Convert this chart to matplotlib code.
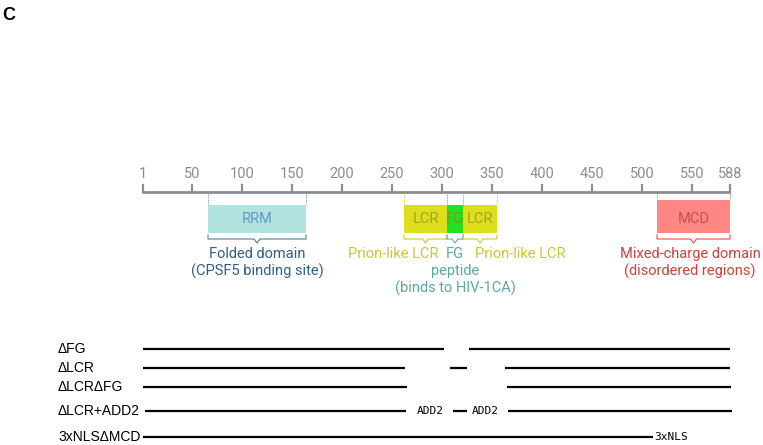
import matplotlib.pyplot as plt
from matplotlib.patches import Rectangle

plt.rcParams['font.family'] = ['Roboto', 'DejaVu Sans']

# protein map (residue numbers)
tick_values = [1, 50, 100, 150, 200, 250, 300, 350, 400, 450, 500, 550, 588]
protein_len = 588

domain_names = ["RRM", "LCR", "FG", "LCR", "MCD"]
domain_start = [66, 262, 305, 321, 515]
domain_end = [164, 305, 321, 355, 588]
domain_fill = ["#b3e3de", "#dede1c", "#22e022", "#dede1c", "#ff8682"]
domain_text = ["#5e9cc9", "#a3a322", "#7a9a20", "#a3a322", "#c8504c"]
domain_edge = ["#4f7fa8", "#c8c832", "#6aaaa6", "#c8c832", "#d8524e"]

# descriptions under the boxes: (x centre, lines, colour)
desc_x = [115, 251, 313, 378, 548]
desc_text = [["Folded domain", "(CPSF5 binding site)"],
             ["Prion-like LCR"],
             ["FG", "peptide", "(binds to HIV-1CA)"],
             ["Prion-like LCR"],
             ["Mixed-charge domain", "(disordered regions)"]]
desc_color = ["#2f5f90", "#c8c832", "#5aa8a2", "#c8c832", "#d6403c"]

# deletion constructs
constructs = ["ΔFG", "ΔLCR", "ΔLCRΔFG", "ΔLCR+ADD2", "3xNLSΔMCD"]
segments = [[(1, 302), (327, 588)],
            [(1, 263), (308, 325), (363, 588)],
            [(1, 265), (365, 589)],
            [(3, 264), (311, 325), (366, 590)],
            [(1, 511)]]
inserts = [[], [], [], [(288, "ADD2"), (343, "ADD2")], [(529, "3xNLS")]]


def main():
    fig = plt.figure(figsize=(7.63, 4.45), dpi=100)
    ax = fig.add_axes([0, 0, 1, 1])
    ax.set_xlim(-142, 621)
    ax.set_ylim(445, 0)
    ax.axis('off')

    fig.text(0.003, 0.985, "C", fontsize=13, fontweight='bold', va='top',
             family=['Liberation Sans', 'DejaVu Sans'])

    # ruler
    axis_y = 192
    gray = "#8a8d92"
    ax.plot([0, protein_len], [axis_y, axis_y], color=gray, lw=2, solid_capstyle='butt')
    for t in tick_values:
        ax.plot([t, t], [axis_y, axis_y - 7], color=gray, lw=1.6)
        ax.text(t, axis_y - 18, str(t), ha='center', va='center', fontsize=10.5, color=gray)

    # domains
    for i, name in enumerate(domain_names):
        x0, x1 = domain_start[i], domain_end[i]
        top = 200 if name == "MCD" else 205
        ax.add_patch(Rectangle((x0, top), x1 - x0, 233 - top, color=domain_fill[i], lw=0))
        ax.text((x0 + x1) / 2, 219, name, ha='center', va='center', fontsize=10.5,
                color=domain_text[i])
        for xe in (x0, x1):
            ax.plot([xe, xe], [axis_y + 1, top], color=domain_edge[i], lw=0.6, ls=(0, (1, 1)))
        # brace
        c = (x0 + x1) / 2
        bx = [x0, x0, c - 3, c, c + 3, x1, x1]
        by = [235, 239, 239, 243, 239, 239, 235]
        ax.plot(bx, by, color=domain_edge[i], lw=0.8)

    for x, lines, col in zip(desc_x, desc_text, desc_color):
        for j, line in enumerate(lines):
            ax.text(x, 254 + 17 * j, line, ha='center', va='center', fontsize=10.5, color=col)

    # constructs
    row_y = [349, 368, 387, 411, 437]
    for name, segs, ins, y in zip(constructs, segments, inserts, row_y):
        ax.text(-84, y, name, ha='left', va='center', fontsize=10,
                family=['Liberation Sans', 'DejaVu Sans'])
        for s0, s1 in segs:
            ax.plot([s0, s1], [y, y], color='black', lw=1.6, solid_capstyle='butt')
        for xi, lab in ins:
            ax.text(xi, y, lab, ha='center', va='center', fontsize=8,
                    family='DejaVu Sans Mono')

    fig.savefig("out.png", dpi=100)


if __name__ == "__main__":
    main()
